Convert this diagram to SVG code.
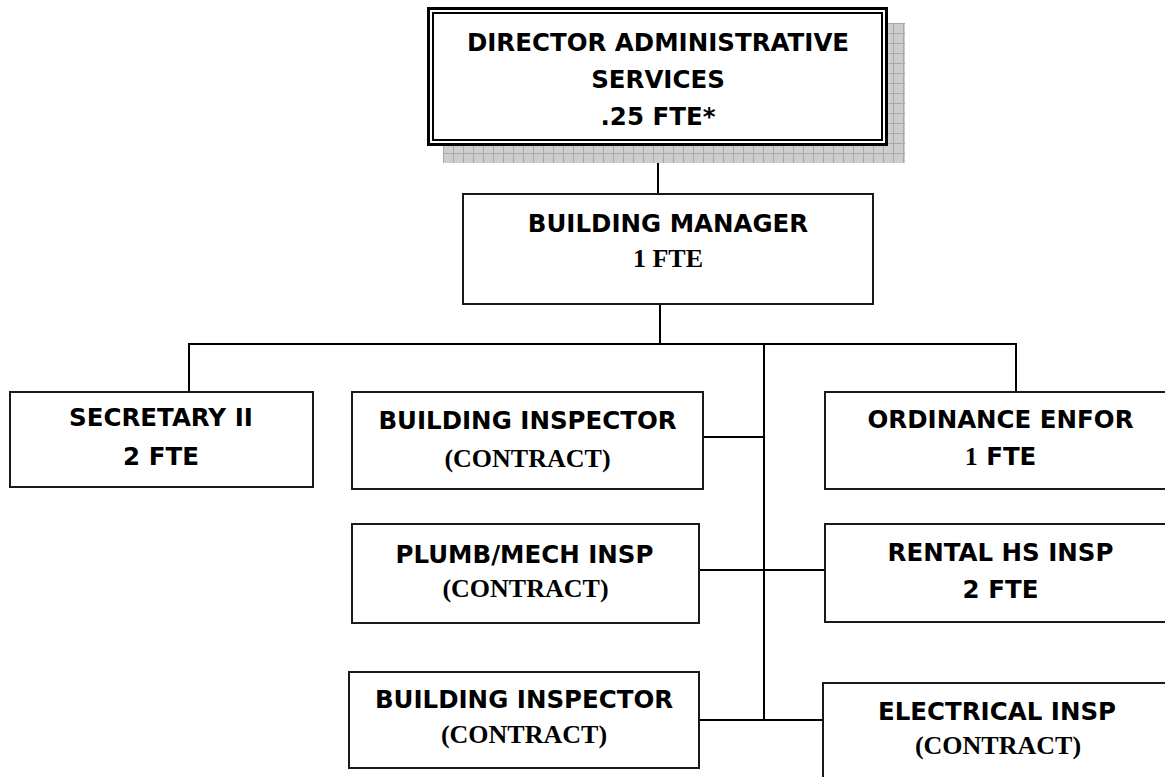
<svg xmlns="http://www.w3.org/2000/svg" width="1165" height="777" viewBox="0 0 1165 777">
<defs>
<pattern id="grid" width="10" height="10" patternUnits="userSpaceOnUse" x="443" y="23">
<rect width="10" height="10" fill="#cdcdcd"/>
<path d="M0 0.5H10M0.5 0V10" stroke="#a8a8a8" stroke-width="1"/>
</pattern>
<style>
.box{fill:#fff;stroke:#1a1a1a;stroke-width:2}
.ln{stroke:#000;stroke-width:2;fill:none}
.t{font-family:"DejaVu Sans",Verdana,sans-serif;font-weight:bold;font-size:24.5px;text-anchor:middle;fill:#000}
.s{font-family:"Liberation Serif","Times New Roman",serif;font-weight:bold;font-size:26px}
</style>
</defs>
<rect width="1165" height="777" fill="#fff"/>
<g id="connectors">
<line class="ln" x1="658" y1="146" x2="658" y2="194"/>
<line class="ln" x1="660" y1="304" x2="660" y2="344"/>
<line class="ln" x1="188" y1="344" x2="1017" y2="344"/>
<line class="ln" x1="189" y1="344" x2="189" y2="392"/>
<line class="ln" x1="1016" y1="344" x2="1016" y2="392"/>
<line class="ln" x1="764" y1="344" x2="764" y2="721"/>
<line class="ln" x1="703" y1="437" x2="764" y2="437"/>
<line class="ln" x1="699" y1="570" x2="825" y2="570"/>
<line class="ln" x1="699" y1="720" x2="823" y2="720"/>
</g>
<g id="director">
<rect x="443" y="23" width="462" height="140" fill="url(#grid)"/>
<rect x="428.5" y="8.5" width="458" height="136" fill="#fff" stroke="#000" stroke-width="3"/>
<rect x="433" y="13" width="449" height="127" fill="none" stroke="#000" stroke-width="2"/>
<text class="t" x="658" y="51">DIRECTOR ADMINISTRATIVE</text>
<text class="t" x="658" y="88">SERVICES</text>
<text class="t" x="658" y="125">.25 FTE*</text>
</g>
<g id="building-manager">
<rect class="box" x="463" y="194" width="410" height="110"/>
<text class="t" x="668" y="232">BUILDING MANAGER</text>
<text class="t s" x="668" y="267">1 FTE</text>
</g>
<g id="secretary">
<rect class="box" x="10" y="392" width="303" height="95"/>
<text class="t" x="161" y="426">SECRETARY II</text>
<text class="t" x="161" y="465">2 FTE</text>
</g>
<g id="building-inspector-1">
<rect class="box" x="352" y="392" width="351" height="97"/>
<text class="t" x="527.5" y="429">BUILDING INSPECTOR</text>
<text class="t s" x="527.5" y="467">(CONTRACT)</text>
</g>
<g id="ordinance">
<rect class="box" x="825" y="392" width="360" height="97"/>
<text class="t" x="1000.5" y="428">ORDINANCE ENFOR</text>
<text class="t" x="1000.5" y="465"><tspan class="s" font-weight="normal">1</tspan> FTE</text>
</g>
<g id="plumb-mech">
<rect class="box" x="352" y="524" width="347" height="99"/>
<text class="t" x="524.5" y="563">PLUMB/MECH INSP</text>
<text class="t s" x="525.5" y="597">(CONTRACT)</text>
</g>
<g id="rental">
<rect class="box" x="825" y="524" width="360" height="98"/>
<text class="t" x="1000.5" y="561">RENTAL HS INSP</text>
<text class="t" x="1000.5" y="598">2 FTE</text>
</g>
<g id="building-inspector-2">
<rect class="box" x="349" y="672" width="350" height="96"/>
<text class="t" x="524" y="708">BUILDING INSPECTOR</text>
<text class="t s" x="524" y="743">(CONTRACT)</text>
</g>
<g id="electrical">
<rect class="box" x="823" y="683" width="362" height="110"/>
<text class="t" x="997" y="720">ELECTRICAL INSP</text>
<text class="t s" x="998" y="754">(CONTRACT)</text>
</g>
</svg>
